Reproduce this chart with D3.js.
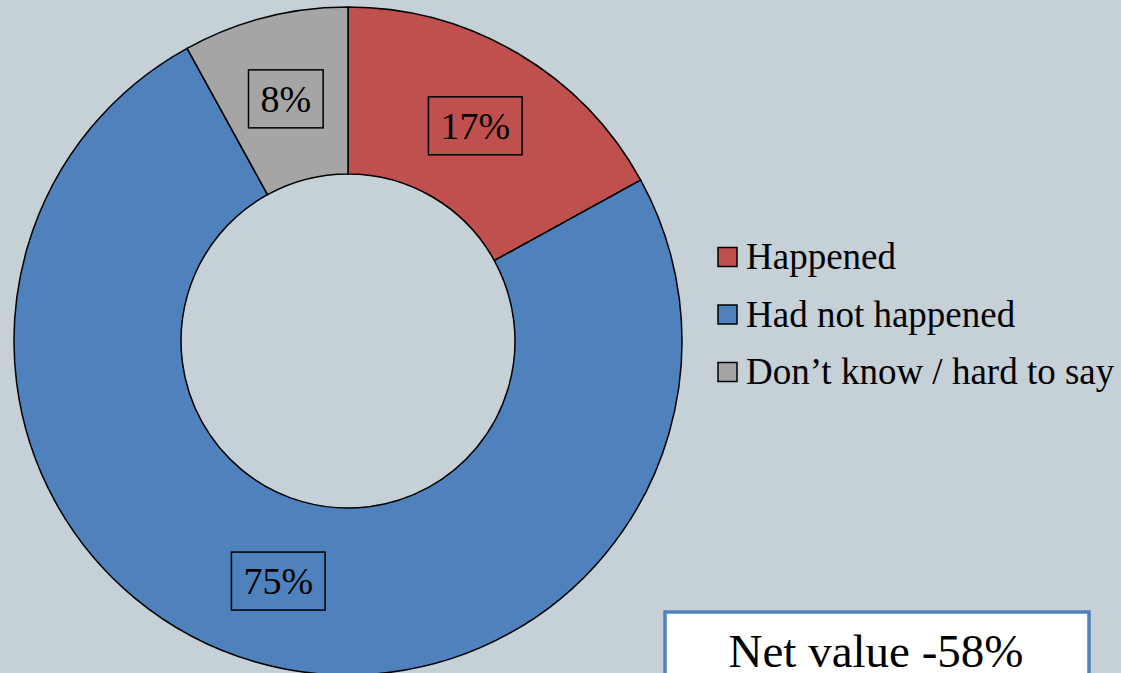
<!DOCTYPE html>
<html>
<head>
<meta charset="utf-8">
<script src="https://cdn.jsdelivr.net/npm/d3@7"></script>
<style>
  html, body { margin: 0; padding: 0; background: #C5D0D7; }
  svg { display: block; font-family: "Liberation Serif", "Times New Roman", serif; }
</style>
</head>
<body>
<div id="chart"></div>
<script>
const categories = ["Happened", "Had not happened", "Don\u2019t know / hard to say"];
const values = [17, 75, 8];
const colors = ["#C0504D", "#4F81BD", "#A5A5A5"];
const netLabel = "Net value -58%";

const width = 1121, height = 673;
const cx = 348, cy = 341, outerR = 334, innerR = 167;

const svg = d3.select("#chart").append("svg")
    .attr("width", width)
    .attr("height", height);

svg.append("rect").attr("width", width).attr("height", height).attr("fill", "#C5D0D7");

const pie = d3.pie().sort(null).value(d => d)
const arcs = pie(values)
const arc = d3.arc().innerRadius(innerR).outerRadius(outerR)
const labelArc = d3.arc().innerRadius(250).outerRadius(250)

const g = svg.append("g").attr("transform", `translate(${cx}, ${cy})`)

g.selectAll("path.slice")
    .data(arcs)
    .enter()
    .append("path")
    .attr("class", "slice")
    .attr("d", arc)
    .attr("fill", (d, i) => colors[i])
    .attr("stroke", "#000")
    .attr("stroke-width", 1.5)

// data labels with boxes
const lab = g.selectAll("g.lab")
    .data(arcs)
    .enter()
    .append("g")
    .attr("class", "lab")
    .attr("transform", d => `translate(${labelArc.centroid(d)})`)

lab.append("text")
    .text(d => d.data + "%")
    .attr("text-anchor", "middle")
    .attr("y", 13)
    .attr("font-size", 38)
    .attr("fill", "#000")

lab.each(function () {
    const t = d3.select(this).select("text").node().getBBox()
    const w = t.width + 24, h = 58
    d3.select(this).insert("rect", "text")
        .attr("x", -w / 2).attr("y", -h / 2)
        .attr("width", w).attr("height", h)
        .attr("fill", "none")
        .attr("stroke", "#000")
        .attr("stroke-width", 1.5)
})

// legend
const legendY = d3.scalePoint().domain(categories).range([257, 372])
const legend = svg.selectAll("g.legend")
    .data(categories)
    .enter()
    .append("g")
    .attr("class", "legend")
    .attr("transform", d => `translate(718, ${legendY(d)})`)

legend.append("rect")
    .attr("x", 0).attr("y", -9.5)
    .attr("width", 19).attr("height", 19)
    .attr("fill", (d, i) => colors[i])
    .attr("stroke", "#000")
    .attr("stroke-width", 1.5)

legend.append("text")
    .text(d => d)
    .attr("x", 28)
    .attr("y", 12)
    .attr("font-size", 37)
    .attr("fill", "#000")

// net value box
svg.append("rect")
    .attr("x", 665).attr("y", 612)
    .attr("width", 424).attr("height", 80)
    .attr("fill", "#fff")
    .attr("stroke", "#4F81BD")
    .attr("stroke-width", 3.5)

svg.append("text")
    .text(netLabel)
    .attr("x", 876)
    .attr("y", 667)
    .attr("text-anchor", "middle")
    .attr("font-size", 47)
    .attr("fill", "#000")
</script>
</body>
</html>
